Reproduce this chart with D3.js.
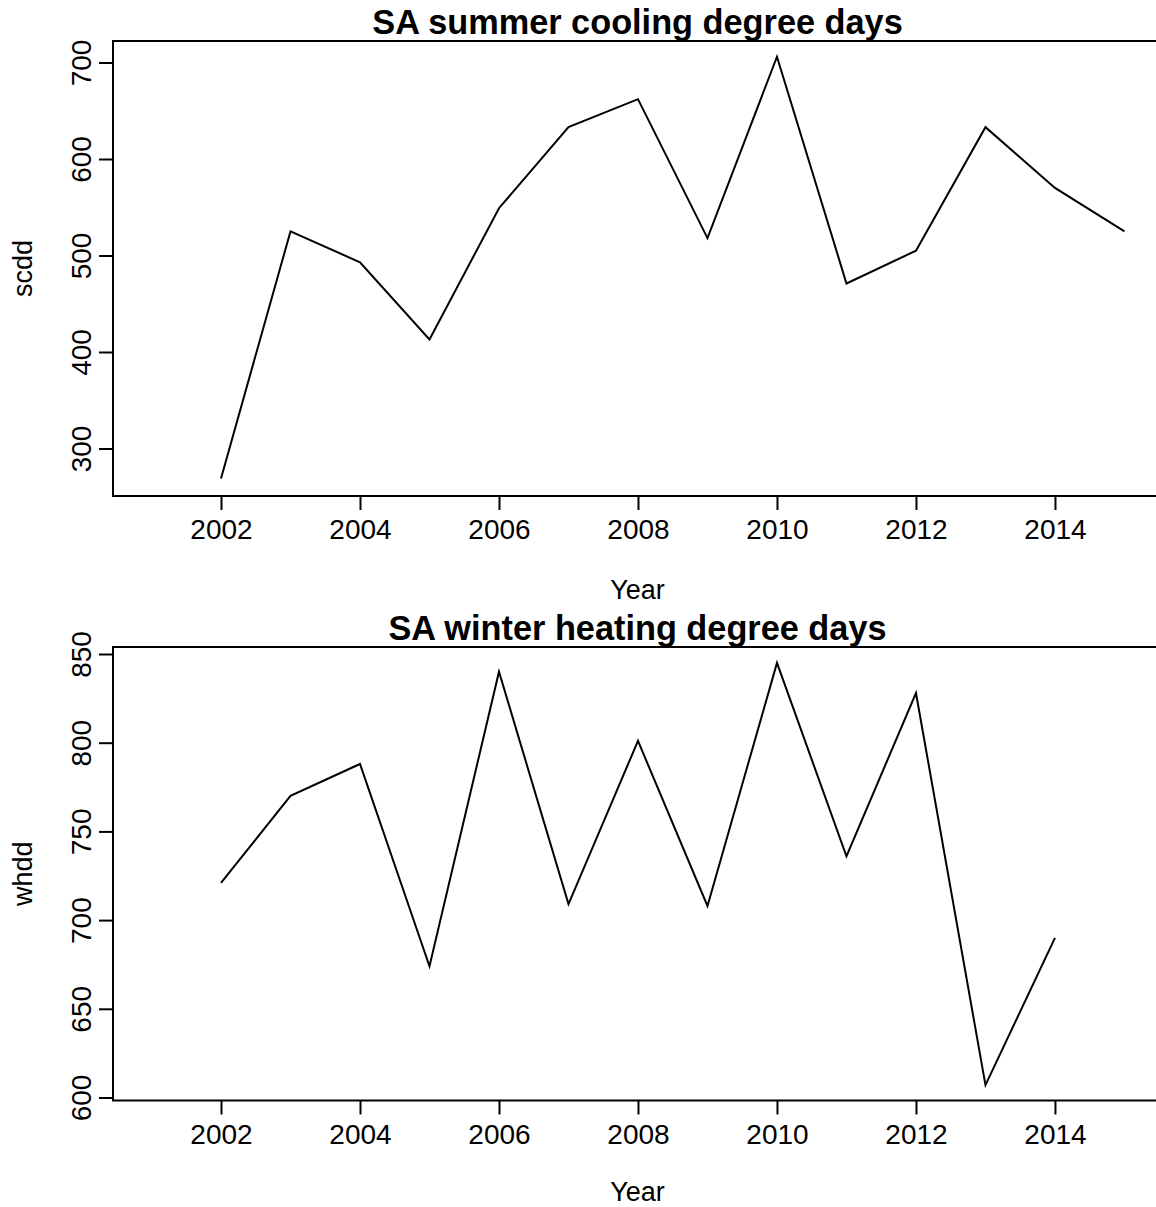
<!DOCTYPE html>
<html>
<head>
<meta charset="utf-8">
<script src="https://cdn.jsdelivr.net/npm/d3@7"></script>
<style>
  html, body { margin: 0; padding: 0; background: #fff; }
  svg { display: block; }
  text { font-family: "Liberation Sans", Arial, Helvetica, sans-serif; fill: #000; }
</style>
</head>
<body>
<svg id="chart" width="1156" height="1207"></svg>
<script>
// ---- data ----
const years = [2002, 2003, 2004, 2005, 2006, 2007, 2008, 2009, 2010, 2011, 2012, 2013, 2014, 2015];
const scdd = [269, 525, 493, 413, 549, 633, 662, 518, 706, 471, 505, 633, 570, 525];
const whddYears = [2002, 2003, 2004, 2005, 2006, 2007, 2008, 2009, 2010, 2011, 2012, 2013, 2014];
const whdd = [721, 770, 788, 674, 840, 709, 801, 708, 845, 736, 828, 607, 690];
const xTicks = [2002, 2004, 2006, 2008, 2010, 2012, 2014];
const scddTicks = [300, 400, 500, 600, 700];
const whddTicks = [600, 650, 700, 750, 800, 850];
const titles = ["SA summer cooling degree days", "SA winter heating degree days"];
const yLabels = ["scdd", "whdd"];
const xLabel = "Year";

const svg = d3.select("#chart");

const left = 113, right = 1162;
const xDomain = [2000.446, 2015.54];

function panel(cfg) {
  const g = svg.append("g");
  const x = d3.scaleLinear().domain(xDomain).range([left, right]);
  const y = d3.scaleLinear().domain(cfg.yRef).range(cfg.yPix);

  const line = d3.line().x(d => x(d[0])).y(d => y(d[1]));
  g.append("path")
    .datum(cfg.xs.map((v, i) => [v, cfg.ys[i]]))
    .attr("d", line)
    .attr("fill", "none")
    .attr("stroke", "#000")
    .attr("stroke-width", 2)
    .attr("stroke-linejoin", "miter");

  g.append("rect")
    .attr("x", left).attr("y", cfg.top)
    .attr("width", right - left).attr("height", cfg.bottom - cfg.top)
    .attr("fill", "none").attr("stroke", "#000").attr("stroke-width", 2);

  const xa = g.append("g").attr("transform", `translate(0,${cfg.bottom})`)
    .call(d3.axisBottom(x).tickValues(xTicks).tickFormat(d3.format("d")).tickSize(14).tickPadding(9));
  xa.select(".domain").remove();
  xa.selectAll(".tick line").attr("stroke", "#000").attr("stroke-width", 2);
  xa.selectAll(".tick text").attr("font-size", 28).attr("font-family", null)
    .attr("dy", null).attr("y", cfg.xTickBase - cfg.bottom);

  const ya = g.append("g").attr("transform", `translate(${left},0)`)
    .call(d3.axisLeft(y).tickValues(cfg.yTicks).tickFormat(d3.format("d")).tickSize(14));
  ya.select(".domain").remove();
  ya.selectAll(".tick line").attr("stroke", "#000").attr("stroke-width", 2);
  ya.selectAll(".tick text").attr("font-size", 28).attr("font-family", null)
    .attr("x", null).attr("dy", null)
    .attr("text-anchor", "middle")
    .attr("transform", "translate(-22,0) rotate(-90)");

  g.append("text")
    .attr("x", (left + right) / 2).attr("y", cfg.titleBase)
    .attr("text-anchor", "middle").attr("font-weight", "bold").attr("font-size", 34.3)
    .text(cfg.title);

  g.append("text")
    .attr("x", (left + right) / 2).attr("y", cfg.xLabBase)
    .attr("text-anchor", "middle").attr("font-size", 27)
    .text(xLabel);

  g.append("text")
    .attr("transform", `translate(32,${(cfg.top + cfg.bottom) / 2}) rotate(-90)`)
    .attr("text-anchor", "middle").attr("font-size", 27)
    .text(cfg.yLabel);
}

panel({
  xs: years, ys: scdd, yTicks: scddTicks,
  yRef: [700, 600], yPix: [62.5, 159],
  top: 41, bottom: 496,
  xTickBase: 539, xLabBase: 598.5, titleBase: 33.5,
  title: titles[0], yLabel: yLabels[0]
});

panel({
  xs: whddYears, ys: whdd, yTicks: whddTicks,
  yRef: [850, 600], yPix: [654, 1097.5],
  top: 647, bottom: 1100.5,
  xTickBase: 1144, xLabBase: 1201, titleBase: 639.5,
  title: titles[1], yLabel: yLabels[1]
});
</script>
</body>
</html>
